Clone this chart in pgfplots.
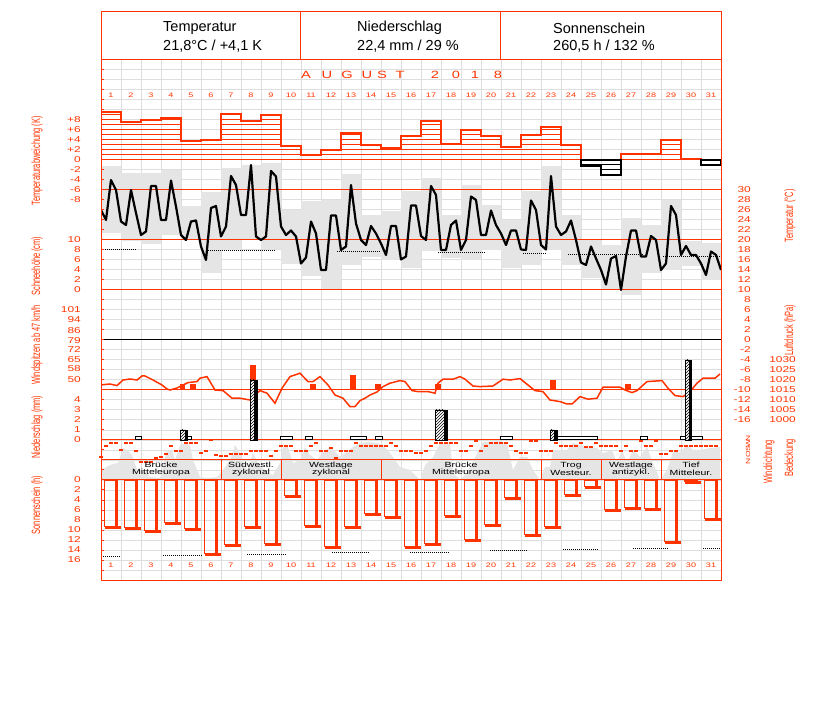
\documentclass[border=0pt]{standalone}
\usepackage{fontspec}
\setmainfont{Liberation Sans}
\newfontfamily\pixfont[FakeStretch=1.4]{Liberation Sans}
\newfontfamily\narrowfont[FakeStretch=0.62]{Liberation Sans}
\usepackage{pgfplots}
\usepackage{pgfplotstable}
\pgfplotsset{compat=1.18}
\usetikzlibrary{patterns}
\definecolor{wred}{RGB}{255,51,0}
\definecolor{gridgray}{RGB}{222,222,222}
\definecolor{bandgray}{RGB}{229,229,229}

\pgfplotsset{
  base/.style={at={(101pt,122pt)}, anchor=south west, width=620pt, height=520pt,
    scale only axis, xmin=0.5, xmax=31.5},
  hid/.style={base, hide axis},
  tlab/.style={font=\pixfont\fontsize{8.5}{9}\selectfont, text=wred, inner sep=0pt},
  lefttick/.style={base, axis x line=none, axis y line*=left, y axis line style={draw=none},
    major tick length=0pt, yticklabel style={tlab, anchor=east, xshift=-20pt}},
  righttick/.style={base, axis x line=none, axis y line*=right, y axis line style={draw=none},
    major tick length=0pt, yticklabel style={tlab, anchor=east, xshift=#1}},
}

% temperature deviation per day (K)
\pgfplotstableread{
d D
1 9.5
2 7.5
3 8
4 8.3
5 3.7
6 4
7 9.1
8 7.7
9 9
10 2.7
11 1
12 2
13 5.3
14 2.9
15 2.3
16 4.7
17 7.7
18 3.1
19 6
20 4.8
21 2.5
22 5
23 6.5
24 2.9
25 -1.3
26 -3
27 1.1
28 1.1
29 4
30 0.1
31 -1.1
}\devtab
\pgfplotstableread{
x D
0.5 9.5
1.5 7.5
2.5 8
3.5 8.3
4.5 3.7
5.5 4
6.5 9.1
7.5 7.7
8.5 9
9.5 2.7
10.5 1
11.5 2
12.5 5.3
13.5 2.9
14.5 2.3
15.5 4.7
16.5 7.7
17.5 3.1
18.5 6
19.5 4.8
20.5 2.5
21.5 5
22.5 6.5
23.5 2.9
24.5 -1.3
25.5 -3
26.5 1.1
27.5 1.1
28.5 4
29.5 0.1
30.5 -1.1
31.5 -1.1
}\devout
% grey temperature band per day (upper, lower)
\pgfplotstableread{
d Tmax Tmin
1 34.7 21.3
2 33.3 19.7
3 33.3 19.2
4 34 21
5 26.8 20
6 29.5 13.3
7 34.3 18
8 35 20
9 35.3 18.1
10 25.9 15.1
11 27.7 12.8
12 28 10
13 33.2 15
14 25 16.6
15 25.7 16
16 29.7 14.3
17 32.3 17.7
18 25 16.3
19 31 16
20 27 17.9
21 24 14.3
22 29.7 15
23 34.7 18
24 25 15
25 20.1 12.3
26 19 10
27 24.3 9
28 23 13.3
29 28 14
30 19.7 14.7
31 19.3 12
}\bandtab
% temperature (6-hourly)
\pgfplotstableread{
x T
0.5 26
0.75 24
1 32
1.25 30
1.5 23.7
1.75 23
2 30
2.25 25.4
2.5 21
2.75 21.7
3 30.8
3.25 30.8
3.5 24
3.75 24
4 31.9
4.25 26.7
4.5 21
4.75 20
5 23.7
5.25 23.9
5.5 18.7
5.75 16
6 26.4
6.25 26.8
6.5 20.7
6.75 22.7
7 32.8
7.25 31
7.5 25
7.75 25
8 35
8.25 20.7
8.5 20
8.75 20.7
9 33.8
9.25 32.7
9.5 22.7
9.75 21
10 21.9
10.25 20.7
10.5 15.3
10.75 16.5
11 23.7
11.25 21.3
11.5 14
11.75 14
12 24.9
12.25 24.9
12.5 18
12.75 18.7
13 31
13.25 23.3
13.5 20
13.75 19
14 22.8
14.25 21.3
14.5 19.3
14.75 17
15 22.8
15.25 22.8
15.5 16.1
15.75 16.7
16 26.9
16.25 26.9
16.5 20.8
16.75 20
17 30.8
17.25 29
17.5 18
17.75 18
18 23
18.25 23.9
18.5 18
18.75 20
19 28.7
19.25 28
19.5 21
19.75 21
20 25.9
20.25 23
20.5 21.3
20.75 19
21 21.9
21.25 21.9
21.5 18.1
21.75 18
22 27.9
22.25 26
22.5 19
22.75 18.1
23 32.8
23.25 22.7
23.5 21
23.75 21.7
24 23.9
24.25 20
24.5 15.5
24.75 15
25 18.7
25.25 16.3
25.5 14
25.75 11.1
26 16.3
26.25 16.8
26.5 10
26.75 16.7
27 21.9
27.25 21.9
27.5 16.7
27.75 16.7
28 20.8
28.25 20
28.5 14
28.75 15.3
29 26.8
29.25 25
29.5 17
29.75 18.8
30 17
30.25 17
30.5 15.3
30.75 13
31 17.7
31.25 17
31.5 14
}\temptab
% air pressure (hPa)
\pgfplotstableread{
x P
0.45 1017.5
0.95 1018
1.3 1017.2
1.6 1020
1.95 1020.5
2.3 1020
2.55 1022
2.7 1022
3.1 1020
3.55 1017.5
3.8 1015.5
3.95 1015
4.3 1016
4.6 1017.5
4.85 1018.7
5.3 1019.2
5.45 1020.9
5.8 1021.7
6.2 1015
6.6 1014.7
7.05 1010.9
7.45 1010.9
7.95 1010
8.2 1012.5
8.45 1014.7
8.8 1013.4
9.2 1008.4
9.55 1015.9
9.95 1021.7
10.45 1023.4
10.85 1019.2
11.1 1019.2
11.45 1021.7
11.85 1017.5
12.2 1012.5
12.6 1010.9
12.95 1006.7
13.2 1006.7
13.45 1009.7
13.7 1010.9
13.95 1012.5
14.3 1014
14.6 1016.7
14.95 1018.4
15.45 1019.7
15.7 1019.2
16.05 1014.7
16.35 1014.2
16.85 1014.2
17.2 1013.4
17.35 1018.4
17.6 1020.4
18.1 1020.4
18.45 1021.7
18.7 1020.4
19.1 1017
19.45 1016.7
20.1 1017
20.6 1020.4
20.95 1020
21.45 1020.7
21.95 1016.7
22.2 1014.7
22.6 1014.2
22.95 1010
23.45 1009.2
23.8 1008
24.05 1008
24.45 1011.7
24.85 1010.4
25.3 1010.9
25.6 1016.4
26.1 1016.4
26.45 1016.4
26.7 1015
27.05 1013.7
27.3 1014.7
27.8 1019.2
28.55 1019.7
28.85 1015.9
29.2 1012.2
29.6 1011.7
29.95 1014.2
30.3 1018.4
30.6 1020.9
31.2 1020.9
31.45 1023
}\presstab
% cloud cover (octas)
\pgfplotstableread{
x C
0.5 2
0.95 3
1.35 3.4
1.6 6.4
1.8 6
2.05 5
2.3 2
2.7 1.6
2.95 0.6
3.45 0.4
3.8 6
4.05 6
4.2 4
4.45 7
4.7 7.4
4.95 7
5.1 4
5.45 0.6
5.8 0.4
6.3 0.6
6.6 2
6.95 4
7.2 7
7.45 5.4
7.8 2
8.1 5.4
8.35 3.4
8.8 1.4
9.1 1
9.45 3.4
9.6 6.6
9.8 7
10.1 3.4
10.45 4
10.7 6.6
10.95 5
11.3 4
11.55 5.4
11.95 6.6
12.45 4.6
13.1 6.6
13.45 7.4
13.8 7.6
14.3 7.4
14.6 7
14.95 5.4
15.2 4
15.45 2.6
15.95 2
16.45 0
16.7 3
17.1 4.6
17.45 7.4
17.95 7.4
18.1 1.4
18.45 0
18.8 1.4
19.6 7.6
20.45 7.8
20.8 7.4
21.1 2
21.45 4.6
21.8 4.6
22.1 2
22.45 0
22.7 2.6
22.95 2.6
23.1 6
23.8 6
24.1 7.4
24.8 6.6
25.3 6.4
25.6 5.4
26.05 6
26.3 3.4
26.55 6
26.8 3.4
27.1 6
27.45 4.6
27.8 6.6
28.1 3.4
28.45 0
28.8 2
29.1 5.6
29.45 5.6
29.8 7
30.1 6
30.45 6
30.95 6.4
31.45 6.6
}\cloudtab
% wind direction (degrees, 6-hourly)
\pgfplotstableread{
x deg
0.5 82
0.75 262
1 311
1.25 311
1.5 196
1.75 311
2 311
2.25 180
2.5 0
2.75 0
3 0
3.25 65
3.5 82
3.75 131
4 262
4.25 180
4.5 180
4.75 311
5 311
5.25 311
5.5 147
5.75 180
6 360
6.25 115
6.5 98
6.75 98
7 131
7.25 131
7.5 131
7.75 131
8 180
8.25 180
8.5 180
8.75 180
9 98
9.25 180
9.5 262
9.75 262
10 262
10.25 180
10.5 180
10.75 180
11 262
11.25 311
11.5 180
11.75 180
12 229
12.25 65
12.5 180
12.75 180
13 180
13.25 311
13.5 262
13.75 262
14 262
14.25 262
14.5 262
14.75 262
15 311
15.25 262
15.5 180
15.75 180
16 180
16.25 147
16.5 147
16.75 180
17 262
17.25 311
17.5 311
17.75 311
18 311
18.25 311
18.5 180
18.75 180
19 262
19.25 344
19.5 180
19.75 262
20 311
20.25 311
20.5 311
20.75 311
21 262
21.25 180
21.5 147
21.75 147
22 344
22.25 344
22.5 180
22.75 180
23 180
23.25 311
23.5 262
23.75 262
24 262
24.25 262
24.5 311
24.75 245
25 245
25.25 311
25.5 262
25.75 262
26 262
26.25 262
26.5 180
26.75 262
27 180
27.25 180
27.5 344
27.75 262
28 262
28.25 344
28.5 131
28.75 131
29 180
29.25 180
29.5 262
29.75 262
30 262
30.25 262
30.5 262
30.75 262
31 262
31.25 262
}\dirtab
% sunshine hours per day
\pgfplotstableread{
d H
1 9.3
2 9.5
3 10
4 8.5
5 9.7
6 14.7
7 12.9
8 9.3
9 12.7
10 3.0
11 9
12 13.3
13 9.3
14 6.7
15 7.3
16 13.3
17 12.7
18 7
19 11.9
20 8.9
21 3.5
22 10.9
23 9.3
24 2.9
25 1.3
26 5.9
27 5.5
28 5.7
29 12.2
30 0.3
31 7.7
}\suntab

\newcommand{\pbar}[3]{\addplot[fill=white, draw=black, line width=0.8pt, postaction={pattern=north east lines}] coordinates {(#1,0) (#1,#3) (#2,#3) (#2,0)} -- cycle;}
\newcommand{\pblk}[3]{\addplot[fill=black, draw=black, line width=0.5pt] coordinates {(#1,0) (#1,#3) (#2,#3) (#2,0)} -- cycle;}
\newcommand{\psml}[3]{\addplot[fill=white, draw=black, line width=1pt] coordinates {(#1,0) (#1,#3) (#2,#3) (#2,0)} -- cycle;}
\newcommand{\wbar}[3]{\addplot[fill=wred, draw=none] coordinates {(#1,42.71) (#1,#3) (#2,#3) (#2,42.71)} -- cycle;}

\begin{document}
\begin{tikzpicture}
\path[use as bounding box] (0,0) rectangle (827pt,702pt);

% ---------- grid ----------
\begin{axis}[base, ymin=-580, ymax=-60, axis line style={draw=none},
  xtick={1.5,2.5,...,30.5}, ytick={-570,-560,...,-70},
  xticklabels={}, yticklabels={}, major tick length=0pt,
  grid=major, grid style={gridgray, line width=1pt}]
\addplot[draw=none] coordinates {(1,-100) (2,-100)};
\end{axis}

% ---------- cloud cover (grey area) ----------
\begin{axis}[hid, ymin=-20, ymax=84]
\addplot[fill=bandgray, draw=none] table[x=x, y=C]{\cloudtab} \closedcycle;
\end{axis}

% ---------- temperature band + curve ----------
\begin{axis}[hid, ymin=-48, ymax=56]
\addplot[draw=none, no markers, error bars/.cd, y dir=plus, y explicit,
  error mark=none, error bar style={draw=bandgray, line width=20pt}]
  table[x=d, y=Tmin, y error expr=\thisrow{Tmax}-\thisrow{Tmin}]{\bandtab};
\addplot[wred, line width=1pt] coordinates {(0.5,30) (31.5,30)};
\addplot[wred, line width=1pt] coordinates {(0.5,20) (31.5,20)};
\addplot[wred, line width=1pt] coordinates {(0.5,10) (31.5,10)};
\addplot[black, line width=1pt] coordinates {(0.5,0) (31.5,0)};
\addplot[black, line width=0.8pt, dash pattern=on 1pt off 1pt] coordinates {(0.5,18.2) (2.25,18.2)};
\addplot[black, line width=0.8pt, dash pattern=on 1pt off 1pt] coordinates {(5.85,17.9) (9.25,17.9)};
\addplot[black, line width=0.8pt, dash pattern=on 1pt off 1pt] coordinates {(12.3,17.7) (14.45,17.7)};
\addplot[black, line width=0.8pt, dash pattern=on 1pt off 1pt] coordinates {(17.35,17.5) (19.75,17.5)};
\addplot[black, line width=0.8pt, dash pattern=on 1pt off 1pt] coordinates {(21.6,17.3) (22.75,17.3)};
\addplot[black, line width=0.8pt, dash pattern=on 1pt off 1pt] coordinates {(23.85,17.1) (27.6,17.1)};
\addplot[black, line width=0.8pt, dash pattern=on 1pt off 1pt] coordinates {(28.6,16.8) (31.45,16.8)};
\addplot[black, line width=2.2pt, line join=round] table[x=x, y=T]{\temptab};
\end{axis}

% ---------- temperature deviation ----------
\begin{axis}[lefttick, ymin=-84, ymax=20,
  ytick={-8,-6,...,8}, yticklabels={-8,-6,-4,-2,0,+2,+4,+6,+8}]
\pgfplotsinvokeforeach{1,...,9}{
  \addplot[only marks, color=wred, mark=-, mark size=10pt, mark options={line width=1pt},
    restrict y to domain=-50:50]
    table[x=d, y expr={\thisrow{D}>=#1 ? #1 : 999}]{\devtab};
}
\pgfplotsinvokeforeach{-1,-2,-3}{
  \addplot[only marks, color=black, mark=-, mark size=10pt, mark options={line width=1pt},
    restrict y to domain=-50:50]
    table[x=d, y expr={\thisrow{D}<=#1 ? #1 : 999}]{\devtab};
}
\addplot[wred, line width=1pt] coordinates {(0.5,0) (31.5,0)};
\addplot[wred, const plot, line width=2pt] table[x=x, y=D]{\devout};
\addplot[black, line width=2pt] coordinates {(24.5,0) (24.5,-1.3) (25.5,-1.3) (25.5,-3) (26.5,-3) (26.5,0)} -- cycle;
\addplot[black, line width=2pt] coordinates {(30.5,0) (30.5,-1.1) (31.5,-1.1) (31.5,0)} -- cycle;
\end{axis}

% ---------- snow axis (labels only) ----------
\begin{axis}[lefttick, ymin=-58, ymax=46, ytick={0,2,...,10}, yticklabels={0,2,4,6,8,10}]
\addplot[draw=none] coordinates {(1,0) (2,0)};
\end{axis}

% ---------- wind gusts ----------
\begin{axis}[lefttick, ymin=-95.714, ymax=283.143,
  ytick={50,58,65,72,79,86,94,101}, yticklabels={50,58,65,72,79,86,94,101}]
\wbar{4.45}{4.7}{47}
\wbar{4.95}{5.25}{47}
\wbar{7.95}{8.25}{61}
\wbar{10.95}{11.25}{47}
\wbar{12.95}{13.25}{54}
\wbar{14.2}{14.5}{47}
\wbar{17.2}{17.5}{47}
\wbar{22.95}{23.25}{50}
\wbar{26.7}{27.0}{47}
\end{axis}

% ---------- air pressure ----------
\begin{axis}[righttick=75pt, ymin=920, ymax=1180,
  ytick={1000,1005,...,1030}, yticklabels={1000,1005,1010,1015,1020,1025,1030}]
\addplot[wred, line width=1pt] coordinates {(0.5,1015) (31.5,1015)};
\addplot[wred, line width=1.5pt] table[x=x, y=P]{\presstab};
\end{axis}

% ---------- precipitation ----------
\begin{axis}[lefttick, ymin=-14, ymax=38, ytick={0,1,...,4}, yticklabels={0,1,2,3,4}]
\addplot[wred, line width=1pt] coordinates {(0.5,0) (31.5,0)};
\psml{2.2}{2.5}{0.3}
\psml{4.8}{5.0}{0.3}
\psml{9.45}{10.05}{0.3}
\psml{10.7}{11.05}{0.3}
\psml{12.95}{13.75}{0.3}
\psml{14.2}{14.55}{0.3}
\psml{20.45}{21.05}{0.3}
\psml{23.3}{25.3}{0.3}
\psml{27.45}{27.8}{0.3}
\psml{29.45}{30.55}{0.3}
\pbar{4.45}{4.7}{1.0}
\pblk{4.7}{4.82}{1.0}
\pbar{7.95}{8.15}{6.0}
\pblk{8.15}{8.3}{6.0}
\pbar{17.2}{17.65}{3.0}
\pblk{17.65}{17.8}{3.0}
\pbar{22.95}{23.15}{1.0}
\pblk{23.15}{23.3}{1.0}
\pbar{29.7}{29.9}{8.0}
\pblk{29.9}{30.03}{8.0}
\end{axis}

% ---------- wind direction ----------
\begin{axis}[hid, ymin=-1930.9, ymax=6578.2]
\addplot[only marks, color=wred, mark=-, mark size=1.6pt, mark options={line width=2pt}]
  table[x=x, y=deg]{\dirtab};
\end{axis}

% ---------- band separators (pixel axis) ----------
\begin{axis}[hid, ymin=-580, ymax=-60]
\addplot[wred, line width=1pt] coordinates {(0.5,-460) (31.5,-460)};
\addplot[wred, line width=1pt] coordinates {(0.5,-480) (31.5,-480)};
\addplot[wred, line width=1pt] coordinates {(6.5,-460) (6.5,-480)};
\addplot[wred, line width=1pt] coordinates {(9.5,-460) (9.5,-480)};
\addplot[wred, line width=1pt] coordinates {(14.5,-460) (14.5,-480)};
\addplot[wred, line width=1pt] coordinates {(22.5,-460) (22.5,-480)};
\addplot[wred, line width=1pt] coordinates {(25.5,-460) (25.5,-480)};
\addplot[wred, line width=1pt] coordinates {(28.5,-460) (28.5,-480)};
\end{axis}

% ---------- sunshine ----------
\begin{axis}[lefttick, y dir=reverse, ymin=-84, ymax=20,
  ytick={0,2,...,16}, yticklabels={0,2,4,6,8,10,12,14,16}]
\addplot[black, line width=0.8pt, dash pattern=on 1pt off 1pt] coordinates {(0.5,15.2) (1.45,15.2)};
\addplot[black, line width=0.8pt, dash pattern=on 1pt off 1pt] coordinates {(3.6,15) (5.6,15)};
\addplot[black, line width=0.8pt, dash pattern=on 1pt off 1pt] coordinates {(7.8,14.8) (9.8,14.8)};
\addplot[black, line width=0.8pt, dash pattern=on 1pt off 1pt] coordinates {(12.05,14.5) (13.95,14.5)};
\addplot[black, line width=0.8pt, dash pattern=on 1pt off 1pt] coordinates {(15.95,14.4) (17.95,14.4)};
\addplot[black, line width=0.8pt, dash pattern=on 1pt off 1pt] coordinates {(19.95,14.1) (21.85,14.1)};
\addplot[black, line width=0.8pt, dash pattern=on 1pt off 1pt] coordinates {(23.6,13.9) (25.35,13.9)};
\addplot[black, line width=0.8pt, dash pattern=on 1pt off 1pt] coordinates {(27.1,13.7) (28.85,13.7)};
\addplot[black, line width=0.8pt, dash pattern=on 1pt off 1pt] coordinates {(30.6,13.6) (31.45,13.6)};
\addplot[ybar, bar width=13pt, bar shift=0pt, draw=wred, fill=none, line width=1pt] table[x=d, y=H]{\suntab};
\addplot[ycomb, color=wred, line width=3pt, xshift=5pt] table[x=d, y=H]{\suntab};
\addplot[only marks, color=wred, mark=-, mark size=8pt, mark options={line width=3pt}, xshift=1.5pt, yshift=-1pt] table[x=d, y=H]{\suntab};
\end{axis}

% ---------- temperature axis labels (right) ----------
\begin{axis}[righttick=30pt, ymin=-48, ymax=56, ytick={-16,-14,...,30},
  yticklabels={-16,-14,-12,-10,-8,-6,-4,-2,0,2,4,6,8,10,12,14,16,18,20,22,24,26,28,30}]
\addplot[draw=none] coordinates {(1,0) (2,0)};
\end{axis}

% ---------- frame ----------
\begin{axis}[base, ymin=-580, ymax=-60, axis line style={wred, line width=1pt},
  xtick=\empty, ytick={-570,-560,...,-70}, yticklabels={}, ytick pos=left,
  tick align=inside, major tick length=3pt, ytick style={wred, line width=1pt}]
\addplot[draw=none] coordinates {(1,-100) (2,-100)};
\end{axis}

% ---------- header ----------
\draw[wred, line width=1pt] (101pt,642pt) rectangle (721pt,690pt);
\draw[wred, line width=1pt] (300.5pt,642pt) -- (300.5pt,690pt);
\draw[wred, line width=1pt] (500.5pt,642pt) -- (500.5pt,690pt);
\begin{scope}[every node/.style={font=\fontsize{14.5}{16}\selectfont, anchor=west, inner sep=0pt}]
\node at (163pt,674pt) {Temperatur};
\node at (163pt,656pt) {21,8°C / +4,1 K};
\node at (357pt,674pt) {Niederschlag};
\node at (357pt,656pt) {22,4 mm / 29 \%};
\node at (553pt,674pt) {Sonnenschein};
\node at (553pt,656pt) {260,5 h / 132 \%};
\end{scope}

\begin{scope}[every node/.style={font=\pixfont\fontsize{10.5}{11}\selectfont, text=wred, inner sep=0pt}]
\node at (306pt,627pt) {A};
\node at (327pt,627pt) {U};
\node at (347pt,627pt) {G};
\node at (367pt,627pt) {U};
\node at (382pt,627pt) {S};
\node at (400pt,627pt) {T};
\node at (435pt,627pt) {2};
\node at (456pt,627pt) {0};
\node at (475pt,627pt) {1};
\node at (498pt,627pt) {8};
\end{scope}

% day numbers
\foreach \d in {1,...,31}{
  \node[font=\pixfont\fontsize{6.5}{7}\selectfont, text=wred, inner sep=0pt] at ({91pt+20pt*\d},607pt) {\d};
  \node[font=\pixfont\fontsize{6.5}{7}\selectfont, text=wred, inner sep=0pt] at ({91pt+20pt*\d},137pt) {\d};
}

% weather types
\begin{scope}[every node/.style={font=\pixfont\fontsize{7.5}{7.5}\selectfont, align=center, inner sep=0pt}]
\node at (161pt,233pt) {Brücke\\Mitteleuropa};
\node at (251pt,233pt) {Südwestl.\\zyklonal};
\node at (331pt,233pt) {Westlage\\zyklonal};
\node at (461pt,233pt) {Brücke\\Mitteleuropa};
\node at (571pt,233pt) {Trog\\Westeur.};
\node at (631pt,233pt) {Westlage\\antizykl.};
\node at (691pt,233pt) {Tief\\Mitteleur.};
\end{scope}

% axis titles
\begin{scope}[every node/.style={font=\narrowfont\fontsize{12}{12}\selectfont, text=wred, rotate=90, inner sep=0pt}]
\node at (37pt,541pt) {Temperaturabweichung (K)};
\node at (37pt,436pt) {Schneehöhe (cm)};
\node at (37pt,357pt) {Windspitzen ab 47 km/h};
\node at (37pt,275pt) {Niederschlag (mm)};
\node at (37pt,197pt) {Sonnenschein (h)};
\node at (790pt,486pt) {Temperatur (°C)};
\node at (790pt,372pt) {Luftdruck (hPa)};
\node at (769pt,240pt) {Windrichtung};
\node at (790pt,244pt) {Bedeckung};
\end{scope}
\begin{scope}[every node/.style={font=\pixfont\fontsize{6}{6}\selectfont, text=wred, rotate=90, inner sep=0pt}]
\node at (748pt,264pt) {N};
\node at (748pt,258.5pt) {W};
\node at (748pt,253.5pt) {S};
\node at (748pt,248pt) {O};
\node at (748pt,241pt) {N};
\end{scope}
\end{tikzpicture}
\end{document}
